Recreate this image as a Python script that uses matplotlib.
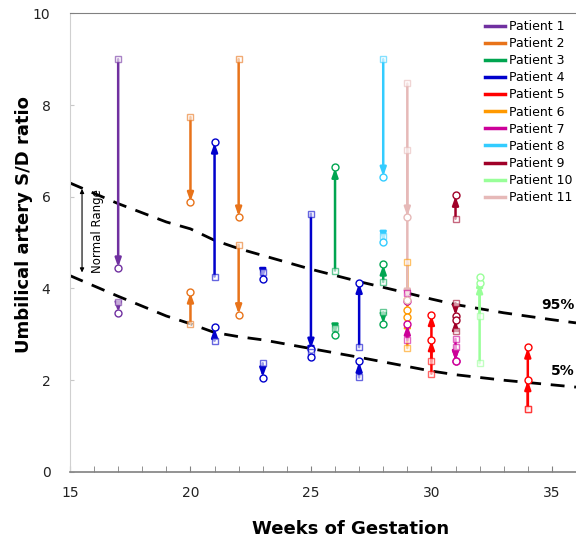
import matplotlib
matplotlib.use('Agg')
import matplotlib.pyplot as plt
from matplotlib.lines import Line2D

# Patients and colours
patients = ['Patient 1', 'Patient 2', 'Patient 3', 'Patient 4', 'Patient 5', 'Patient 6',
            'Patient 7', 'Patient 8', 'Patient 9', 'Patient 10', 'Patient 11']
colores = ['#7030A0', '#E8731A', '#00A550', '#0000CC', '#FF0000', '#FF9900',
           '#CC0099', '#33CCFF', '#A00028', '#99FF99', '#E6B9B8']

# Each arrow: patient index, week, first S/D (square), second S/D (circle)
flecha_paciente = [0, 0,
                   1, 1, 1, 1,
                   2, 2, 2, 2,
                   3, 3, 3, 3, 3, 3, 3, 3,
                   4, 4, 4, 4,
                   5, 5,
                   6, 6, 6, 6,
                   7, 7,
                   8, 8, 8,
                   9, 9,
                   10, 10]
flecha_semana = [17, 17,
                 20, 20, 22, 22,
                 26, 26, 28, 28,
                 21, 21, 23, 23, 25, 25, 27, 27,
                 30, 30, 34, 34,
                 29, 29,
                 29, 29, 31, 31,
                 28, 28,
                 31, 31, 31,
                 32, 32,
                 29, 29]
valor_inicio = [9.0, 3.70,
                7.74, 3.23, 9.0, 4.95,
                4.39, 3.14, 4.14, 3.48,
                4.26, 2.86, 4.37, 2.37, 5.63, 2.62, 2.72, 2.06,
                2.14, 2.41, 1.37, 1.37,
                4.57, 2.70,
                3.90, 2.87, 2.90, 2.73,
                9.0, 5.14,
                5.52, 3.68, 3.08,
                2.37, 3.39,
                8.47, 7.02]
valor_fin = [4.45, 3.47,
             5.88, 3.92, 5.56, 3.43,
             6.64, 2.99, 4.53, 3.22,
             7.19, 3.15, 4.20, 2.05, 2.68, 2.50, 4.13, 2.41,
             2.88, 3.43, 2.72, 2.01,
             3.53, 3.38,
             3.72, 3.22, 2.41, 2.41,
             6.43, 5.01,
             6.03, 3.40, 3.32,
             4.12, 4.26,
             5.56, 3.75]

# Reference percentile curves
semanas_ref = [15, 17, 19, 20, 21, 22, 23, 25, 27, 29, 30, 31, 33, 35, 36]
p95 = [6.30, 5.85, 5.45, 5.30, 5.05, 4.87, 4.72, 4.42, 4.15, 3.90, 3.77, 3.65, 3.47, 3.32, 3.25]
p5 = [4.28, 3.83, 3.40, 3.23, 3.04, 2.95, 2.88, 2.69, 2.50, 2.30, 2.20, 2.12, 2.00, 1.90, 1.85]

fig = plt.figure(figsize=(5.76, 5.4), dpi=100)
ax = fig.add_axes([0.1215, 0.126, 0.8785, 0.8494])

ax.plot(semanas_ref, p95, color='black', lw=2, dashes=(5, 3.5), zorder=1)
ax.plot(semanas_ref, p5, color='black', lw=2, dashes=(5, 3.5), zorder=1)

# Arrows first, markers on top
for p, w, a, b in zip(flecha_paciente, flecha_semana, valor_inicio, valor_fin):
    c = colores[p]
    ax.annotate('', xy=(w, b), xytext=(w, a),
                arrowprops=dict(arrowstyle='-|>,head_width=0.16,head_length=0.45',
                                color=c, lw=1.8, mutation_scale=11,
                                shrinkA=0, shrinkB=0.5), zorder=2)

for p, w, a, b in zip(flecha_paciente, flecha_semana, valor_inicio, valor_fin):
    c = colores[p]
    ax.plot(w, a, marker='s', ms=5, mfc='white', mec=c, mew=1, alpha=0.6, zorder=3)
    ax.plot(w, b, marker='o', ms=5, mfc='white', mec=c, mew=1, zorder=3)

# Normal range marker
ax.annotate('', xy=(15.5, 6.17), xytext=(15.5, 4.35),
            arrowprops=dict(arrowstyle='<|-|>', color='black', lw=0.8,
                            mutation_scale=6, shrinkA=0, shrinkB=0))
ax.text(16.15, 5.25, 'Normal Range', rotation=90, ha='center', va='center', fontsize=8.5)

ax.text(35.95, 3.65, '95%', ha='right', va='center', fontsize=10, fontweight='bold')
ax.text(35.95, 2.2, '5%', ha='right', va='center', fontsize=10, fontweight='bold')

ax.set_xlim(15, 36)
ax.set_ylim(0, 10)
ax.set_xticks([15, 20, 25, 30, 35])
ax.set_xticks(range(15, 37), minor=True)
ax.set_yticks([0, 2, 4, 6, 8, 10])
ax.tick_params(axis='x', which='both', direction='in', length=4, colors='#808080',
               labelcolor='#222222', labelsize=10, pad=10)
ax.tick_params(axis='y', which='both', direction='in', length=3, colors='#C8C8C8',
               labelcolor='#222222', labelsize=10, pad=14)

ax.spines['right'].set_visible(False)
ax.spines['top'].set_color('#808080')
ax.spines['bottom'].set_color('#808080')
ax.spines['bottom'].set_linewidth(1.2)
ax.spines['left'].set_color('#D0D0D0')

ax.set_xlabel('Weeks of Gestation', fontsize=13, fontweight='bold')
ax.set_ylabel('Umbilical artery S/D ratio', fontsize=13, fontweight='bold')
ax.xaxis.set_label_coords(0.555, -0.105)
ax.yaxis.set_label_coords(-0.073, 0.54)

handles = [Line2D([0], [0], color=c, lw=2.5) for c in colores]
ax.legend(handles, patients, loc='upper right', frameon=False, fontsize=9,
          handlelength=1.6, handletextpad=0.3, labelspacing=0.33,
          bbox_to_anchor=(1.015, 1.01))

fig.savefig('out.png', dpi=100)
